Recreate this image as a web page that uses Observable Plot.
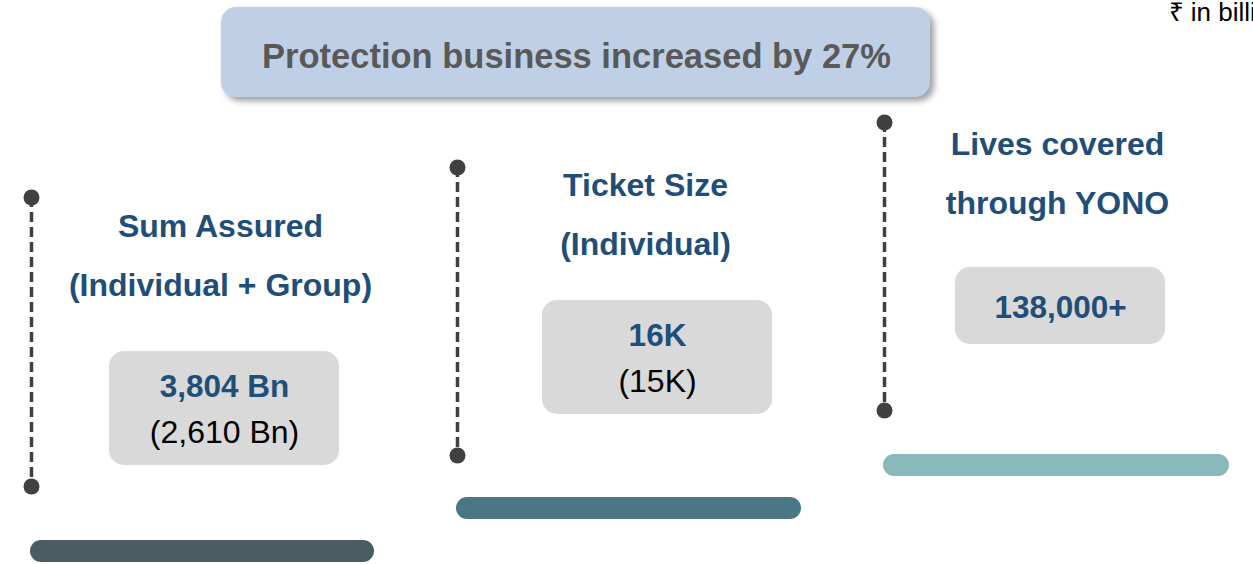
<!DOCTYPE html>
<html>
<head>
<meta charset="utf-8">
<script src="https://cdn.jsdelivr.net/npm/d3@7"></script>
<script src="https://cdn.jsdelivr.net/npm/@observablehq/plot@0.6"></script>
<style>
  html, body { margin: 0; padding: 0; background: #ffffff; overflow: hidden; }
  #chart svg { display: block; }
</style>
</head>
<body>
<div id="chart"></div>
<script>
// ---- Data ----
const headline = "Protection business increased by 27%";
const unitNote = "₹ in billion";
const metrics = ["Sum Assured\n(Individual + Group)", "Ticket Size\n(Individual)", "Lives covered\nthrough YONO"];
const currentValues = ["3,804 Bn", "16K", "138,000+"];
const previousValues = ["(2,610 Bn)", "(15K)", ""];

// ---- Layout (pixel space) ----
const W = 1253, H = 564;
const layout = {
  lineX:    [31, 457, 884],
  lineTop:  [197, 167, 122],
  lineBot:  [486, 455, 410],
  titleX:   [220, 645, 1057],
  titleY:   [247.5, 206.5, 165],
  boxX1:    [109, 542, 955],
  boxX2:    [339, 772, 1165],
  boxY1:    [351, 300, 267],
  boxY2:    [465, 414, 344],
  curY:     [386, 335, 307],
  prevY:    [432, 381, 0],
  barX1:    [30, 456, 883],
  barX2:    [374, 801, 1229],
  barY1:    [540, 497, 454],
  barY2:    [562, 519, 476],
  barColor: ["#4a5b61", "#4a7785", "#8ab9bc"]
};

const cols = metrics.map((m, i) => ({
  metric: m,
  current: currentValues[i],
  previous: previousValues[i],
  lineX: layout.lineX[i], lineTop: layout.lineTop[i], lineBot: layout.lineBot[i],
  titleX: layout.titleX[i], titleY: layout.titleY[i],
  boxX1: layout.boxX1[i], boxX2: layout.boxX2[i], boxY1: layout.boxY1[i], boxY2: layout.boxY2[i],
  curY: layout.curY[i], prevY: layout.prevY[i],
  barX1: layout.barX1[i], barX2: layout.barX2[i], barY1: layout.barY1[i], barY2: layout.barY2[i],
  barColor: layout.barColor[i]
}));
const dots = cols.flatMap(d => [{x: d.lineX, y: d.lineTop}, {x: d.lineX, y: d.lineBot}]);
const header = [{x1: 221, x2: 930, y1: 7, y2: 97, tx: 576, ty: 56, label: headline}];
const note = [{x: 1168, y: 12, label: unitNote}];

const FONT = "Liberation Sans, Arial, Helvetica, sans-serif";
const BLUE = "#1f4e79";

const chart = Plot.plot({
  width: W, height: H,
  margin: 0,
  style: { fontFamily: FONT, background: "#ffffff" },
  x: { domain: [0, W], range: [0, W], axis: null },
  y: { domain: [0, H], range: [0, H], axis: null },
  marks: [
    // headline box
    Plot.rect(header, { x1: "x1", x2: "x2", y1: "y1", y2: "y2", fill: "#bfd0e6", rx: 15 }),
    Plot.text(header, { x: "tx", y: "ty", text: "label", fill: "#595959", fontSize: 34.5, fontWeight: "bold" }),
    // unit note (runs off the right edge, as in the source)
    Plot.text(note, { x: "x", y: "y", text: "label", textAnchor: "start", fill: "#000000", fontSize: 26 }),
    // dashed connector lines
    Plot.ruleX(cols, { x: "lineX", y1: "lineTop", y2: "lineBot", stroke: "#404040", strokeWidth: 3.5, strokeDasharray: "10,5" }),
    Plot.dot(dots, { x: "x", y: "y", r: 8, fill: "#404040", stroke: "none" }),
    // titles
    Plot.text(cols, { x: "titleX", y: "titleY", text: "metric", fill: BLUE, fontSize: 32, fontWeight: "bold", lineHeight: 1.84 }),
    // value boxes
    Plot.rect(cols, { x1: "boxX1", x2: "boxX2", y1: "boxY1", y2: "boxY2", fill: "#d9d9d9", rx: 15 }),
    Plot.text(cols, { x: d => (d.boxX1 + d.boxX2) / 2, y: "curY", text: "current", fill: BLUE, fontSize: 31.5, fontWeight: "bold" }),
    Plot.text(cols.filter(d => d.previous), { x: d => (d.boxX1 + d.boxX2) / 2, y: "prevY", text: "previous", fill: "#000000", fontSize: 32 }),
    // bottom bars
    Plot.rect(cols, { x1: "barX1", x2: "barX2", y1: "barY1", y2: "barY2", fill: "barColor", rx: 11 })
  ]
});

// drop shadow for headline box
const svg = d3.select(chart);
const defs = svg.insert("defs", ":first-child");
const f = defs.append("filter").attr("id", "hshadow").attr("x", "-5%").attr("y", "-20%").attr("width", "115%").attr("height", "150%");
f.append("feDropShadow").attr("dx", 4).attr("dy", 4).attr("stdDeviation", 3).attr("flood-color", "#7f7f7f").attr("flood-opacity", 0.75);
const rectGroups = svg.selectAll("g[aria-label='rect']").nodes();
if (rectGroups.length) d3.select(rectGroups[0]).attr("filter", "url(#hshadow)");

document.getElementById("chart").appendChild(chart);
</script>
</body>
</html>
